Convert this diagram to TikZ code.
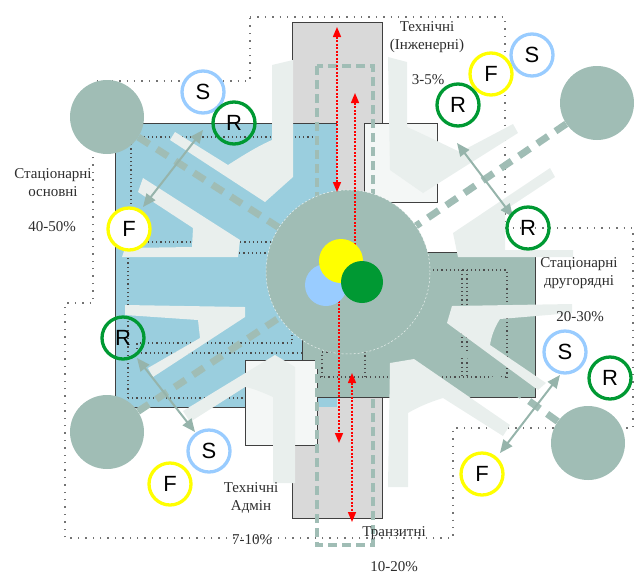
\documentclass[tikz,border=0pt]{standalone}
\usepackage{fontspec}
\setmainfont{Liberation Serif}
\newfontfamily\lettf{Liberation Sans}
\usetikzlibrary{arrows.meta}
\definecolor{bluebg}{RGB}{154,206,222}
\definecolor{gg}{RGB}{160,189,181}
\definecolor{towerc}{RGB}{217,217,217}
\definecolor{wingc}{RGB}{233,239,237}
\definecolor{roomc}{RGB}{244,247,246}
\definecolor{cS}{RGB}{153,204,255}
\definecolor{cR}{RGB}{0,153,51}
\definecolor{cF}{RGB}{255,255,0}
\definecolor{arrc}{RGB}{150,180,171}
\definecolor{txtc}{RGB}{45,45,45}
\tikzset{
 outerdot/.style={draw=black!55, line width=1.4pt, dash pattern=on 1.4pt off 6pt},
 innerdot/.style={draw=black!70, line width=1.2pt, dash pattern=on 1.2pt off 3pt},
 edgeline/.style={draw=black!75, line width=0.9pt},
 thickdash/.style={draw=gg, line width=7pt, dash pattern=on 13pt off 9pt},
 rectdash/.style={draw=gg, line width=3.2pt, dash pattern=on 9pt off 5pt},
 perim/.style={circle, fill=gg, minimum size=74pt, inner sep=0pt},
 ringbase/.style={circle, line width=3.3pt, minimum size=42pt, inner sep=0pt, font=\lettf\fontsize{22}{22}\selectfont},
 ringS/.style={ringbase, draw=cS, fill=white},
 ringF/.style={ringbase, draw=cF, fill=white},
 ringR/.style={ringbase, draw=cR},
 dotc/.style={circle, inner sep=0pt, minimum size=#1},
 redline/.style={draw=red, line width=1.5pt, dash pattern=on 2pt off 1.5pt},
 redboth/.style={redline, arrows={Triangle[length=10pt,width=8pt]-Triangle[length=10pt,width=8pt]}},
 redone/.style={redline, arrows={-Triangle[length=10pt,width=8pt]}},
 garrow/.style={draw=arrc, line width=2pt, arrows={Triangle[length=13pt,width=11pt]-Triangle[length=13pt,width=11pt]}},
 lbl/.style={align=center, inner sep=0pt, text=txtc, font=\fontsize{15}{18}\selectfont}
}
\begin{document}
\begin{tikzpicture}[x=1pt,y=-1pt]
\useasboundingbox (0,0) rectangle (639,574);
% outer dotted boundary
\draw[outerdot] (250,17) -- (505,17) -- (505,228) -- (633,228) -- (633,428) -- (453,428) -- (453,538) -- (65,538) -- (65,303) -- (93,303) -- (93,81) -- (250,81) -- cycle;
% towers
\filldraw[fill=towerc, edgeline] (292,22) rectangle (382,210);
\filldraw[fill=towerc, edgeline] (292,350) rectangle (382,518);
% blue block
\fill[bluebg] (115,123) rectangle (337,407);
\draw[edgeline] (337,123) -- (115,123) -- (115,407) -- (245,407);
% grey-green block
\filldraw[fill=gg, edgeline] (302,252) rectangle (535,397);
% light rooms
\filldraw[fill=roomc, edgeline] (364,123) rectangle (437,202);
\filldraw[fill=roomc, edgeline] (245,360) rectangle (317,445);
% inner dotted room lines
\draw[innerdot] (131,242) -- (131,137) -- (318,137);
\draw[innerdot] (131,242) -- (270,242);
\draw[innerdot] (128,398) -- (128,253) -- (270,253);
\draw[innerdot] (128,398) -- (243,398);
\draw[innerdot] (137,353) -- (137,343) -- (292,343) -- (292,332);
\draw[innerdot] (137,353) -- (302,353);
\draw[innerdot] (322,377) -- (322,352) -- (365,352) -- (365,377);
\draw[innerdot] (320,377) -- (507,377);
\draw[innerdot] (433,270) -- (507,270) -- (507,377);
\draw[innerdot] (462,270) -- (462,377);
\draw[innerdot] (467,270) -- (467,377);
% light wings
\fill[wingc] (272,65) -- (293,60) -- (293,177) -- (265,202) -- (170,140) -- (175,132) -- (228,165) .. controls (242,156) and (258,146) .. (272,140) -- cycle;
\fill[wingc] (143,178) -- (240,240) -- (238,257) -- (122,257) -- (125,248) -- (192,247) -- (193,228) -- (138,192) -- cycle;
\fill[wingc] (388,57) -- (407,62) -- (407,127) .. controls (425,135) and (445,145) .. (460,152) -- (513,124) -- (518,133) -- (423,193) -- (390,170) -- cycle;
\fill[wingc] (453,233) -- (550,168) -- (555,177) -- (505,210) -- (505,250) -- (573,250) -- (573,257) -- (458,257) -- cycle;
\fill[wingc] (125,305) -- (245,307) -- (245,317) -- (153,377) -- (148,368) -- (200,338) -- (198,320) -- (125,315) -- cycle;
\fill[wingc] (183,411) -- (275,355) -- (295,367) -- (295,483) -- (273,483) -- (273,397) .. controls (262,392) and (252,388) .. (245,387) -- (190,422) -- cycle;
\fill[wingc] (452,306) -- (572,304) -- (572,313) -- (500,319) .. controls (494,328) and (491,338) .. (490,345) -- (546,383) -- (538,390) -- (447,323) -- cycle;
\fill[wingc] (390,363) -- (414,359) -- (510,425) -- (503,436) -- (443,398) .. controls (430,402) and (418,407) .. (408,413) -- (408,487) -- (388,487) -- cycle;
% dashed transit zone
\draw[rectdash] (317,66) rectangle (373,545);
% hub and peripheral circles
\node[perim] (p1) at (107,117) {};
\node[perim] (p2) at (597,103) {};
\node[perim] (p3) at (107,432) {};
\node[perim] (p4) at (588,443) {};
\node[circle, fill=gg, minimum size=164pt, inner sep=0pt] (hub) at (348,272) {};
\draw[thickdash] (p1) -- (hub);
\draw[thickdash] (p2) -- (hub);
\draw[thickdash] (p3) -- (hub);
\draw[thickdash] (p4) -- (hub);
\draw[white, line width=0.5pt, dash pattern=on 2pt off 2pt, opacity=0.8] (hub.center) circle (82pt);
% red flows
\coordinate (ra1) at (337,27); \coordinate (ra2) at (337,192);
\coordinate (rb1) at (355,255); \coordinate (rb2) at (355,93);
\coordinate (rc1) at (339,290); \coordinate (rc2) at (339,443);
\coordinate (rd1) at (352,373); \coordinate (rd2) at (352,522);
\draw[redboth] (ra1) -- (ra2);
\draw[redone] (rb1) -- (rb2);
\draw[redone] (rc1) -- (rc2);
\draw[redboth] (rd1) -- (rd2);
% centre discs
\node[dotc=42pt, fill=cS] (cb) at (326,285) {};
\node[dotc=44pt, fill=cF] (cy) at (341,261) {};
\node[dotc=42pt, fill=cR] (cg) at (362,282) {};
% grey double arrows
\coordinate (ga1) at (203,130); \coordinate (ga2) at (143,207);
\coordinate (gb1) at (457,143); \coordinate (gb2) at (513,217);
\coordinate (gc1) at (137,358); \coordinate (gc2) at (195,432);
\coordinate (gd1) at (560,375); \coordinate (gd2) at (500,453);
\draw[garrow] (ga1) -- (ga2);
\draw[garrow] (gb1) -- (gb2);
\draw[garrow] (gc1) -- (gc2);
\draw[garrow] (gd1) -- (gd2);
% letter rings
\node[ringS] (s1) at (203,92) {S};
\node[ringR] (r1) at (234,123) {R};
\node[ringF] (f1) at (129,229) {F};
\node[ringS] (s2) at (532,55) {S};
\node[ringF] (f2) at (491,74) {F};
\node[ringR] (r2) at (458,105) {R};
\node[ringR] (r3) at (528,228) {R};
\node[ringR] (r4) at (123,338) {R};
\node[ringS] (s3) at (209,451) {S};
\node[ringF] (f3) at (170,484) {F};
\node[ringS] (s4) at (565,352) {S};
\node[ringR] (r5) at (610,378) {R};
\node[ringF] (f4) at (482,474) {F};
% labels
\node[lbl] (t1) at (427,37) {Технічні\\(Інженерні)};
\node[lbl] (t1p) at (428,80) {3-5\%};
\node[lbl] (t2) at (53,183) {Стаціонарні\\основні};
\node[lbl] (t2p) at (52,227) {40-50\%};
\node[lbl] (t3) at (579,273) {Стаціонарні\\другорядні};
\node[lbl] (t3p) at (580,317) {20-30\%};
\node[lbl] (t4) at (251,498) {Технічні\\Адмін};
\node[lbl] (t4p) at (252,540) {7-10\%};
\node[lbl] (t5) at (394,533) {Транзитні};
\node[lbl] (t5p) at (394,567) {10-20\%};
\end{tikzpicture}
\end{document}
